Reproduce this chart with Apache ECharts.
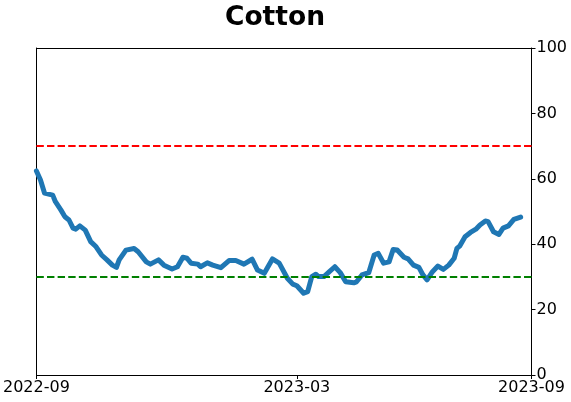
<!DOCTYPE html>
<html>
<head>
<meta charset="utf-8">
<script src="https://cdn.jsdelivr.net/npm/echarts@6/dist/echarts.min.js"></script>
<style>html,body{margin:0;padding:0;background:#fff;}#c{width:571px;height:402px;}</style>
</head>
<body>
<div id="c"></div>
<script>
var titleText = 'Cotton';
// day offsets from the left edge of the axis (0 = 2022-09 tick, 365 = 2023-09 tick)
var days = [0,3,6,12,14,18,21,24,27,29,32,36,40,44,48,52,56,59,61,66,72,75,81,84,90,94,100,104,108,111,114,119,121,126,130,136,142,147,153,159,163,168,174,179,185,189,192,197,200,203,206,208,212,216,220,224,228,234,236,240,245,249,252,256,260,263,266,271,274,278,282,285,288,292,296,300,304,308,310,312,316,320,324,327,331,333,337,341,344,348,352,357];
var values = [62.4,59.6,55.6,55.0,53.0,50.5,48.4,47.4,44.9,44.6,45.6,44.3,40.8,39.2,36.7,35.2,33.6,32.9,35.2,38.2,38.7,37.7,34.6,33.9,35.2,33.6,32.4,33.1,36.0,35.7,34.2,33.9,33.1,34.3,33.6,32.8,35.0,35.0,33.9,35.4,32.1,31.1,35.5,34.2,29.6,27.8,27.3,25.0,25.5,30.1,30.8,30.1,30.1,31.6,33.1,31.3,28.5,28.2,28.5,30.6,31.3,36.7,37.2,34.2,34.6,38.4,38.2,36.0,35.5,33.6,32.9,30.6,29.1,31.6,33.3,32.3,33.6,35.7,38.7,39.4,42.3,43.6,44.6,45.9,47.1,46.9,43.8,43.0,44.9,45.6,47.6,48.3];
var xTickPos = [0, 192, 365];
var xTickLabels = ['2022-09', '2023-03', '2023-09'];
var yTicks = [0, 20, 40, 60, 80, 100];
var upperLevel = 70;
var lowerLevel = 30;

var seriesData = days.map(function (d, i) { return [d, values[i]]; });
var chart = echarts.init(document.getElementById('c'), null, {renderer: 'canvas'});
var spine = {show: true, onZero: false, lineStyle: {color: '#000', width: 1}};
chart.setOption({
  animation: false,
  backgroundColor: '#ffffff',
  title: {
    text: titleText,
    left: 270,
    top: 0,
    textAlign: 'center',
    textStyle: {fontFamily: 'DejaVu Sans', fontWeight: 'bold', fontSize: 26.5, color: '#000'}
  },
  grid: {left: 35.5, right: 39.5, top: 48, bottom: 27, show: false},
  xAxis: [{
    type: 'value',
    min: 0,
    max: 365,
    position: 'bottom',
    splitLine: {show: false},
    axisLine: spine,
    axisTick: {show: true, inside: false, length: 4, customValues: xTickPos, lineStyle: {color: '#000'}},
    axisLabel: {
      show: true, customValues: xTickPos, margin: 5,
      fontFamily: 'DejaVu Sans', fontSize: 16, color: '#000',
      showMinLabel: true, showMaxLabel: true,
      formatter: function (v) {
        var idx = xTickPos.indexOf(Math.round(v));
        return idx >= 0 ? xTickLabels[idx] : '';
      }
    }
  }, {
    type: 'value', min: 0, max: 365, position: 'top',
    splitLine: {show: false}, axisLine: spine, axisTick: {show: false}, axisLabel: {show: false}
  }],
  yAxis: [{
    type: 'value',
    position: 'right',
    min: 0,
    max: 100,
    interval: 20,
    splitLine: {show: false},
    axisLine: spine,
    axisTick: {show: true, inside: false, length: 4, lineStyle: {color: '#000'}},
    axisLabel: {margin: 5, fontFamily: 'DejaVu Sans', fontSize: 16, color: '#000',
      formatter: function (v) { return yTicks.indexOf(v) >= 0 ? String(v) : ''; }}
  }, {
    type: 'value', position: 'left', min: 0, max: 100, interval: 20,
    splitLine: {show: false}, axisLine: spine, axisTick: {show: false}, axisLabel: {show: false}
  }],
  series: [{
    type: 'line',
    xAxisIndex: 0,
    yAxisIndex: 0,
    data: seriesData,
    showSymbol: false,
    lineStyle: {color: '#1f77b4', width: 5, cap: 'round', join: 'round'},
    itemStyle: {color: '#1f77b4'},
    z: 3,
    markLine: {
      silent: true,
      symbol: ['none', 'none'],
      label: {show: false},
      data: [
        {yAxis: upperLevel, lineStyle: {color: '#ff0000', width: 2, type: [7.4, 3.2]}},
        {yAxis: lowerLevel, lineStyle: {color: '#008000', width: 2, type: [7.4, 3.2]}}
      ]
    }
  }]
});
</script>
</body>
</html>
